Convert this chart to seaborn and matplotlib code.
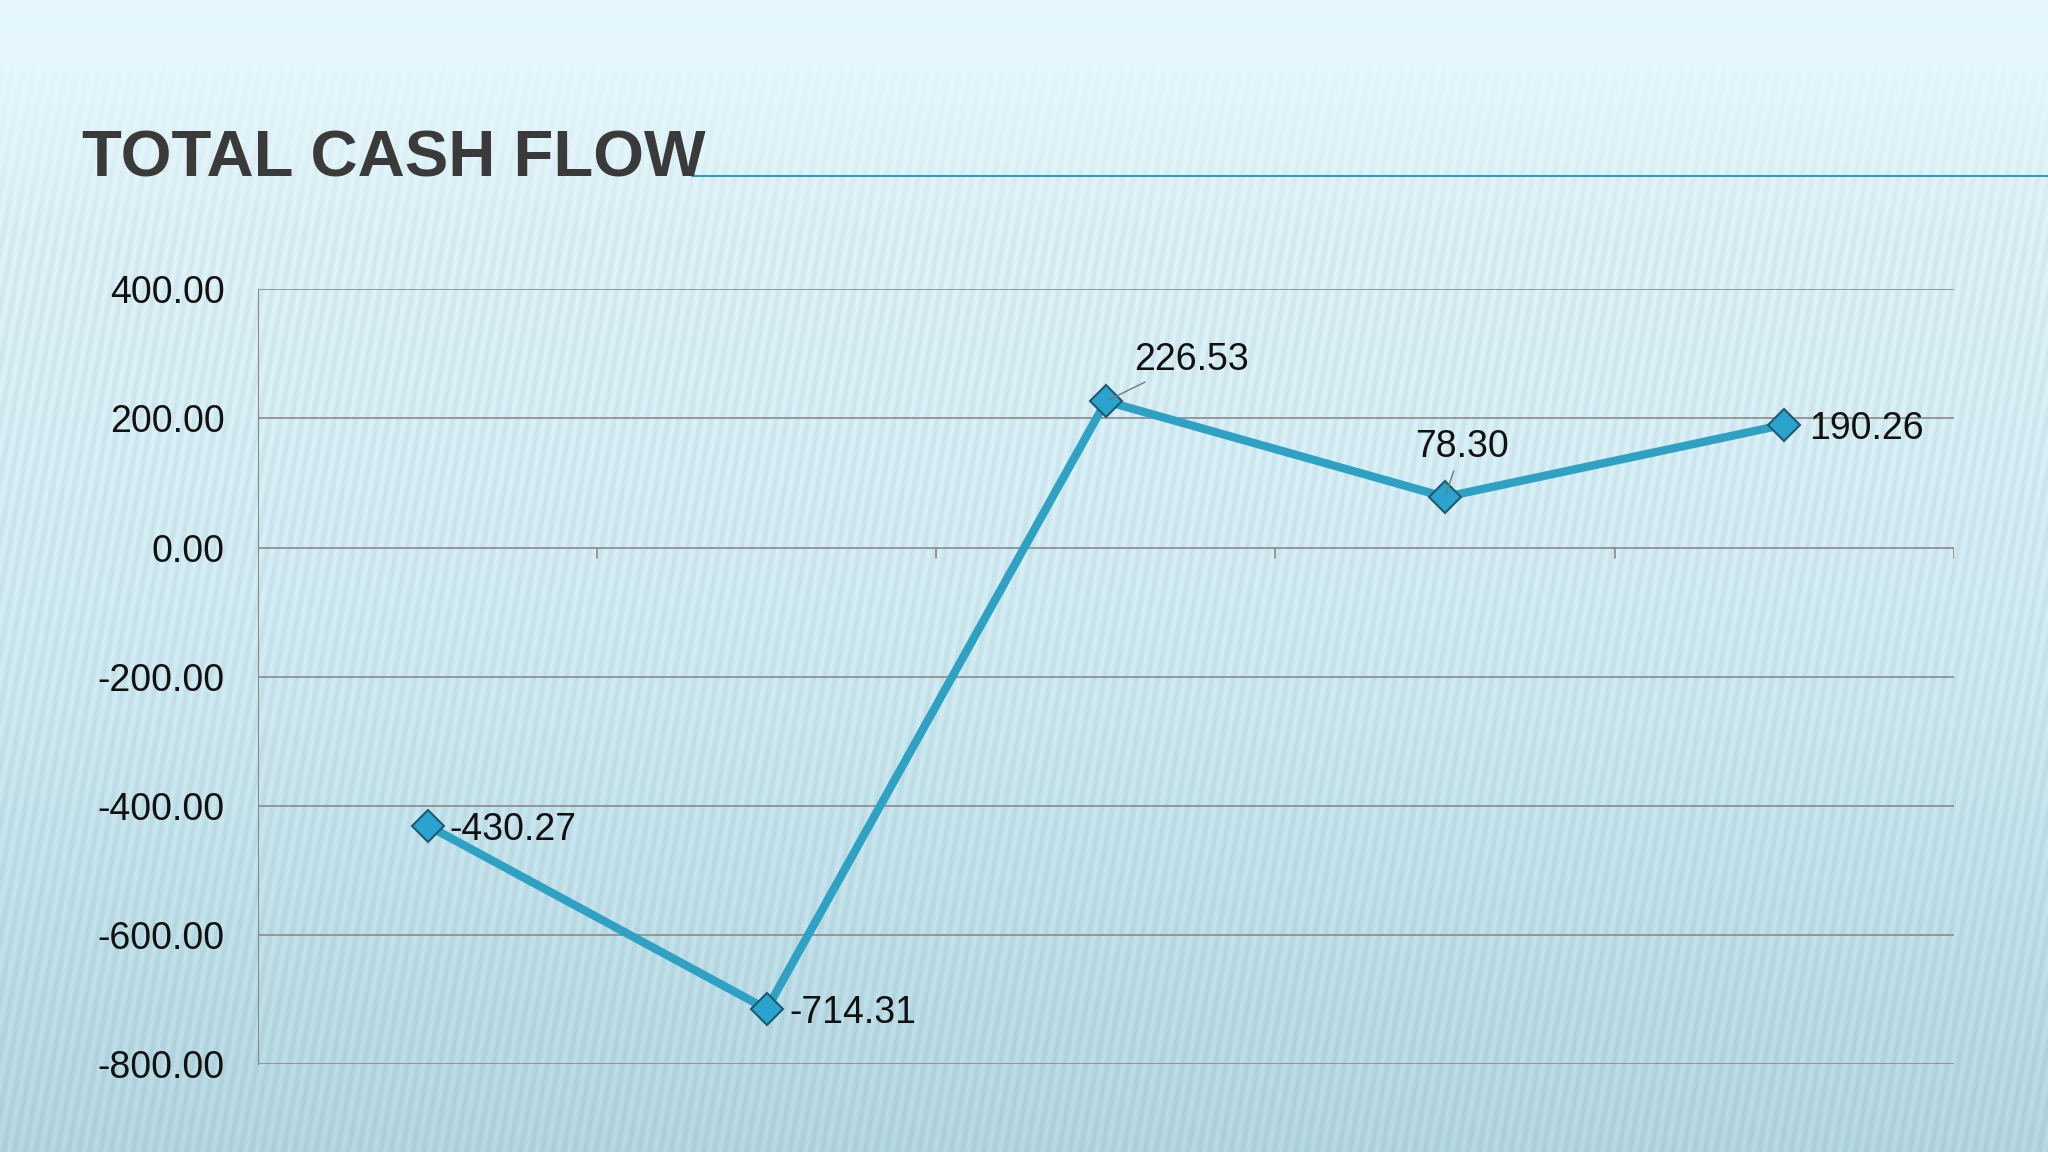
import numpy as np
import matplotlib
matplotlib.use("Agg")
import matplotlib.pyplot as plt
import seaborn as sns
import pandas as pd

periods = ["P1", "P2", "P3", "P4", "P5"]
cash_flow = [-430.27, -714.31, 226.53, 78.30, 190.26]
y_ticks = [400, 200, 0, -200, -400, -600, -800]

sns.set_style("white")
plt.rcParams['font.family'] = ['Liberation Sans', 'DejaVu Sans']

fig = plt.figure(figsize=(20.48, 11.52), dpi=100)

# background: light cyan gradient with slanted stripes
bg = fig.add_axes([0, 0, 1, 1])
h, w = 576, 1024
yy = np.linspace(0, 1, h)[:, None] * np.ones((1, w))
xx = np.ones((h, 1)) * np.linspace(0, 1, w)[None, :]
top = np.array([0.90, 0.97, 0.99])
mid = np.array([0.84, 0.94, 0.97])
bot = np.array([0.72, 0.86, 0.90])
t = yy[..., None]
img = np.where(t < 0.5, top * (1 - 2 * t) + mid * 2 * t, mid * (2 - 2 * t) + bot * (2 * t - 1))
stripe = 0.5 + 0.5 * np.sin(2 * np.pi * (xx * 190 + yy * 20))
stripe = stripe * np.clip((yy - 0.05) * 6, 0, 1)
img = img - 0.05 * stripe[..., None]
bg.imshow(np.clip(img, 0, 1), aspect="auto", extent=[0, 1, 0, 1])
bg.axis("off")

# title and rule
fig.text(0.040, 0.847, "TOTAL CASH FLOW", fontsize=47, color="#3a3a3a",
         fontweight="bold", va="baseline")
fig.add_artist(plt.Line2D([0.338, 1.0], [0.847, 0.847], color="#2e9fb8", lw=1.5))

ax = fig.add_axes([0.126, 0.076, 0.828, 0.673])
ax.patch.set_alpha(0)
df = pd.DataFrame({"x": np.arange(len(periods)), "y": cash_flow})
sns.lineplot(data=df, x="x", y="y", ax=ax, color="#2fa2c4", lw=6,
             marker="D", markersize=16, markerfacecolor="#2aa3cf",
             markeredgecolor="#1d5a70", markeredgewidth=1.5)

ax.set_xlim(-0.5, len(periods) - 0.5)
ax.set_ylim(-800, 400)
ax.set_yticks(y_ticks)
ax.set_yticklabels([f"{v:.2f}" for v in y_ticks], fontsize=27, color="#111111")
ax.set_xticks([])
ax.set_xlabel("")
ax.set_ylabel("")
ax.grid(axis="y", color="#8a8a8a", lw=1.2)
for s in ["top", "right", "bottom"]:
    ax.spines[s].set_visible(False)
ax.spines["left"].set_color("#8a8a8a")
ax.tick_params(axis="y", length=0, pad=24)
for b in np.arange(-0.5, len(periods), 1.0):
    ax.plot([b, b], [0, -16], color="#8a8a8a", lw=1.2)

offsets = [(16, -3), (16, -3), (20, 30), (12, 36), (18, -3)]
aligns = ["left", "left", "left", "center", "left"]
for i, v in enumerate(cash_flow):
    arrow = dict(arrowstyle="-", color="#777777", lw=1) if i in (2, 3) else None
    ax.annotate(f"{v:.2f}", (i, v), xytext=offsets[i], textcoords="offset points",
                fontsize=27, ha=aligns[i], va="center", color="#111111",
                arrowprops=arrow)

fig.savefig("out.png", dpi=100)
